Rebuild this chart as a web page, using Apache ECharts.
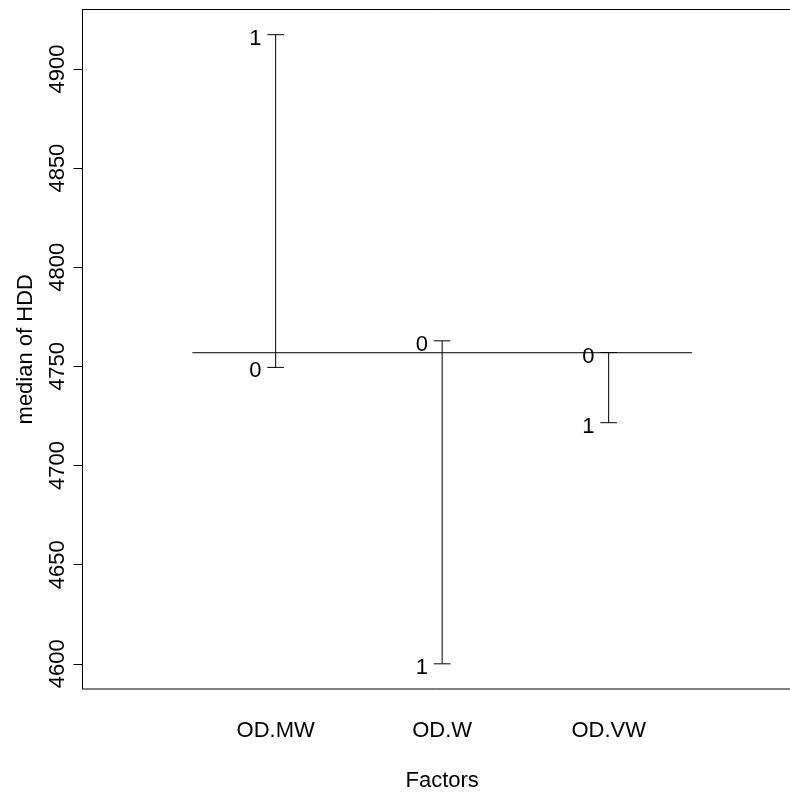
<!DOCTYPE html>
<html>
<head>
<meta charset="utf-8">
<script src="https://cdn.jsdelivr.net/npm/echarts@6/dist/echarts.min.js"></script>
<style>html,body{margin:0;padding:0;background:#fff}</style>
</head>
<body>
<div id="main" style="width:790px;height:793px"></div>
<script>
// design plot: median of HDD per factor level
var factors = ['OD.MW', 'OD.W', 'OD.VW'];
var level0 = [4749.5, 4762.9, 4757.0];
var level1 = [4917.3, 4600.0, 4721.6];
var grandMedian = 4756.9;
var yTicks = [4600, 4650, 4700, 4750, 4800, 4850, 4900];

var FONT = '"Liberation Sans", Arial, sans-serif';

var barData = factors.map(function (f, i) {
    return [i + 1, level0[i], level1[i]];
});

var myChart = echarts.init(document.getElementById('main'));

var option = {
    animation: false,
    grid: {
        left: 82.5, top: 9.5, width: 719.3, height: 679.5,
        outerBoundsMode: 'none', containLabel: false,
        show: true, borderColor: '#000', borderWidth: 1,
        backgroundColor: 'transparent'
    },
    xAxis: {
        type: 'value', min: -0.16, max: 4.16,
        axisLine: { show: false, onZero: false },
        axisTick: { show: false },
        splitLine: { show: false },
        axisLabel: {
            customValues: [1, 2, 3],
            formatter: function (v) { return factors[Math.round(v) - 1]; },
            fontSize: 22, fontFamily: FONT, color: '#000', margin: 31
        },
        name: 'Factors', nameLocation: 'middle', nameGap: 81,
        nameTextStyle: { fontSize: 22, fontFamily: FONT, color: '#000' }
    },
    yAxis: {
        type: 'value', min: 4587.3, max: 4930.0,
        axisLine: { show: true, onZero: false, lineStyle: { color: '#000', width: 1 } },
        axisTick: { show: true, customValues: yTicks, length: 9, lineStyle: { color: '#000' } },
        splitLine: { show: false },
        axisLabel: {
            customValues: yTicks, rotate: 90, margin: 14,
            formatter: function (v) { return String(v); },
            fontSize: 22, fontFamily: FONT, color: '#000'
        },
        name: 'median of HDD', nameLocation: 'middle', nameRotate: 90, nameGap: 46,
        nameTextStyle: { fontSize: 22, fontFamily: FONT, color: '#000' }
    },
    series: [
        {
            type: 'line',
            data: [[0.5, grandMedian], [3.5, grandMedian]],
            symbol: 'none',
            lineStyle: { color: '#000', width: 1 },
            silent: true
        },
        {
            type: 'custom',
            data: barData,
            renderItem: function (params, api) {
                var x = api.value(0);
                var a = api.coord([x, api.value(1)]);
                var b = api.coord([x, api.value(2)]);
                var hw = api.size([0.05, 0])[0];
                var off = api.size([0.085, 0])[0];
                var ls = { stroke: '#000', lineWidth: 1 };
                function tick(p) {
                    return { type: 'line', shape: { x1: p[0] - hw, y1: p[1], x2: p[0] + hw, y2: p[1] }, style: ls };
                }
                function label(p, t) {
                    return {
                        type: 'text', x: p[0] - off, y: p[1] + 4,
                        style: { text: t, align: 'right', verticalAlign: 'middle', fontSize: 22, fontFamily: FONT, fill: '#000' }
                    };
                }
                return {
                    type: 'group',
                    children: [
                        { type: 'line', shape: { x1: a[0], y1: a[1], x2: b[0], y2: b[1] }, style: ls },
                        tick(a), tick(b),
                        label(a, '0'), label(b, '1')
                    ]
                };
            }
        }
    ]
};

myChart.setOption(option);
</script>
</body>
</html>
